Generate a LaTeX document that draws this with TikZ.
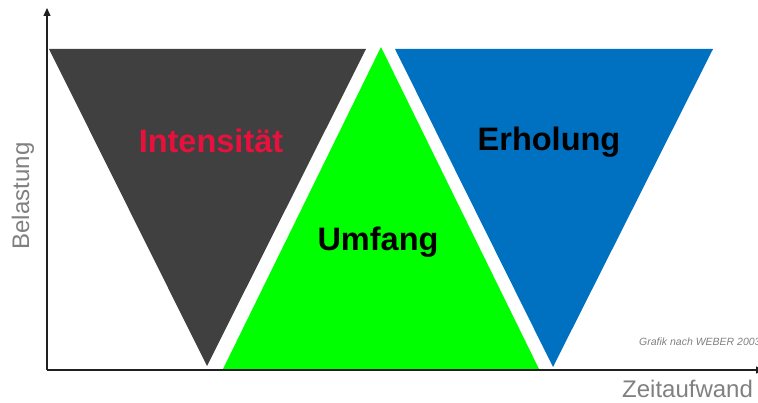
\documentclass[tikz,border=0pt]{standalone}
\usepackage{fontspec}
\setmainfont{Liberation Sans}
\usetikzlibrary{arrows.meta}
\definecolor{darktri}{HTML}{404040}
\definecolor{greentri}{HTML}{00FF00}
\definecolor{bluetri}{HTML}{0070C0}
\definecolor{redtxt}{HTML}{E8103C}
\definecolor{axisgray}{HTML}{808080}
\definecolor{axisline}{HTML}{202020}
\tikzset{
  tri/.style={draw=none},
  bigword/.style={font=\fontsize{32.5}{32.5}\selectfont\bfseries, inner sep=0pt},
  axislabel/.style={font=\fontsize{24}{24}\selectfont, text=axisgray, inner sep=0pt},
  axisarrow/.style={draw=axisline, line width=1.1pt, -{Triangle[width=7pt,length=8pt]}},
  note/.style={font=\fontsize{10.5}{10.5}\selectfont\itshape, text=axisgray, inner sep=0pt}
}
\begin{document}
\begin{tikzpicture}[x=1pt,y=-1pt]
\useasboundingbox (0,0) rectangle (758,403);
% corner coordinates
\coordinate (dA) at (49,49);
\coordinate (dB) at (366,49);
\coordinate (dC) at (207,366);
\coordinate (gA) at (381,47);
\coordinate (gB) at (223,369);
\coordinate (gC) at (539,369);
\coordinate (bA) at (395,49);
\coordinate (bB) at (713,49);
\coordinate (bC) at (553,367);
\fill[darktri] (dA) -- (dB) -- (dC) -- cycle;
\fill[greentri] (gA) -- (gB) -- (gC) -- cycle;
\fill[bluetri] (bA) -- (bB) -- (bC) -- cycle;
% axes
\coordinate (origin) at (47,370);
\coordinate (ytip) at (47,8);
\coordinate (xtip) at (764,370);
\draw[axisarrow] (origin) -- (ytip);
\draw[axisarrow] (origin) -- (xtip);
% labels
\node[bigword, text=redtxt] (intens) at (211,141) {Intensität};
\node[bigword, text=black] (erhol) at (549,142) {Erholung};
\node[bigword, text=black] (umfang) at (378,242) {Umfang};
\node[axislabel, rotate=90] (bel) at (23,196) {Belastung};
\node[axislabel, anchor=base west] (zeit) at (622,397) {Zeitaufwand};
\node[note, anchor=base west] (grafik) at (639,346) {Grafik nach WEBER 2003};
\end{tikzpicture}
\end{document}
